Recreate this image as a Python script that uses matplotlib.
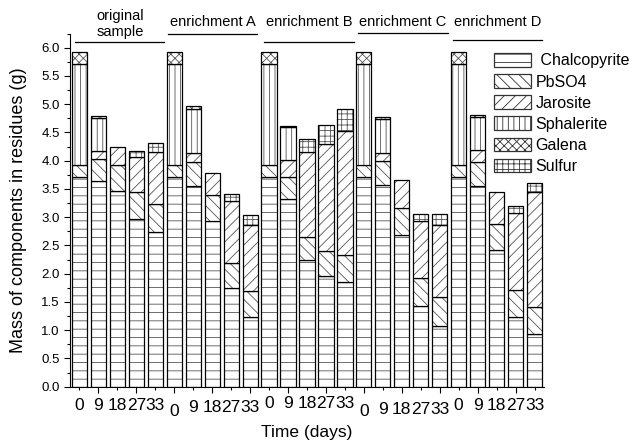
import matplotlib
matplotlib.use('Agg')
import matplotlib.pyplot as plt
import numpy as np
from matplotlib.patches import Patch

plt.rcParams['font.family'] = ['Liberation Sans', 'DejaVu Sans']
plt.rcParams['hatch.linewidth'] = 0.6

# ---------------- data ----------------
groups = ['original\nsample', 'enrichment A', 'enrichment B', 'enrichment C', 'enrichment D']
days = ['0', '9', '18', '27', '33']
components = [' Chalcopyrite', 'PbSO4', 'Jarosite', 'Sphalerite', 'Galena', 'Sulfur']

chalcopyrite = [3.71, 3.64, 3.47, 2.96, 2.73,
                3.71, 3.56, 2.93, 1.74, 1.23,
                3.71, 3.32, 2.24, 1.96, 1.86,
                3.71, 3.57, 2.69, 1.43, 1.07,
                3.71, 3.55, 2.42, 1.23, 0.93]
pbso4 = [0.22, 0.39, 0.46, 0.48, 0.50,
         0.22, 0.42, 0.46, 0.45, 0.46,
         0.22, 0.40, 0.41, 0.45, 0.47,
         0.22, 0.42, 0.48, 0.50, 0.51,
         0.22, 0.43, 0.46, 0.48, 0.48]
jarosite = [0.00, 0.14, 0.31, 0.62, 0.92,
            0.00, 0.15, 0.39, 1.10, 1.18,
            0.00, 0.30, 1.50, 1.89, 2.20,
            0.00, 0.15, 0.48, 1.00, 1.28,
            0.00, 0.21, 0.57, 1.36, 2.04]
sphalerite = [1.78, 0.58, 0.00, 0.00, 0.00,
              1.78, 0.78, 0.00, 0.00, 0.00,
              1.78, 0.57, 0.00, 0.00, 0.00,
              1.78, 0.59, 0.00, 0.00, 0.00,
              1.78, 0.58, 0.00, 0.00, 0.00]
galena = [0.22, 0.05, 0.00, 0.00, 0.00,
          0.22, 0.05, 0.00, 0.00, 0.00,
          0.22, 0.02, 0.00, 0.00, 0.00,
          0.22, 0.04, 0.00, 0.00, 0.00,
          0.22, 0.04, 0.00, 0.00, 0.00]
sulfur = [0.00, 0.00, 0.00, 0.12, 0.16,
          0.00, 0.00, 0.00, 0.12, 0.17,
          0.00, 0.00, 0.23, 0.34, 0.38,
          0.00, 0.00, 0.00, 0.12, 0.19,
          0.00, 0.00, 0.00, 0.13, 0.16]

series = [chalcopyrite, pbso4, jarosite, sphalerite, galena, sulfur]
hatches = ['--', '\\\\\\', '///', '|||', 'xxxx', '+++']

# ---------------- layout/style ----------------
W, H = 636, 441
fig = plt.figure(figsize=(W / 100, H / 100), dpi=100)
ax_left, ax_right, ax_bottom, ax_top = 70, 544, 386.7, 33.6
ax = fig.add_axes([ax_left / W, 1 - ax_bottom / H, (ax_right - ax_left) / W, (ax_bottom - ax_top) / H])

n = len(groups) * len(days)
x = np.arange(1, n + 1)
bottom = np.zeros(n)
for vals, hatch in zip(series, hatches):
    v = np.array(vals, dtype=float)
    m = v > 0
    ax.bar(x[m], v[m], bottom=bottom[m], width=0.8, color='white',
           edgecolor='#555555', hatch=hatch, linewidth=0)
    ax.bar(x[m], v[m], bottom=bottom[m], width=0.8, fill=False,
           edgecolor='black', linewidth=0.9)
    bottom += v

ax.set_xlim(0.5, n + 0.5)
ax.set_ylim(0, 6.25)
ax.spines['top'].set_visible(False)
ax.spines['right'].set_visible(False)
ax.set_xticks(np.arange(2, n + 1, 2))
ax.set_xticks(np.arange(1, n + 1, 2), minor=True)
ax.set_xticklabels([])
ax.set_yticks(np.arange(0, 6.01, 0.5))
ax.set_yticks(np.arange(0, 6.26, 0.25), minor=True)
ax.set_yticklabels(['%.1f' % t for t in np.arange(0, 6.01, 0.5)], fontsize=9.5)
ax.tick_params(which='major', direction='out', length=4, width=0.8)
ax.tick_params(which='minor', direction='out', length=2.2, width=0.8)

# day labels under each bar
group_label_y = [405, 408, 404, 409, 405]
for gi in range(len(groups)):
    for di, d in enumerate(days):
        pos = gi * len(days) + di + 1
        ypx = group_label_y[gi]
        if di == 0 and gi in (1, 3):
            ypx = 411
        ax.annotate(d, xy=(pos, 0), xycoords=('data', 'axes fraction'),
                    xytext=(0, -(ypx - ax_bottom) * 0.72), textcoords='offset points',
                    ha='center', va='center', fontsize=12.5)

# group labels and lines on top
grp_text_y = [6.42, 6.46, 6.45, 6.45, 6.46]
grp_line_y = [6.10, 6.24, 6.10, 6.26, 6.14]
grp_line_x = [(0.79, 5.47), (5.68, 10.37), (10.74, 15.47), (15.68, 20.42), (20.68, 25.42)]
for g, ty, ly, (x0, x1) in zip(groups, grp_text_y, grp_line_y, grp_line_x):
    ax.text((x0 + x1) / 2, ty, g, ha='center', va='center', fontsize=10.5,
            linespacing=1.2, clip_on=False)
    ax.plot([x0, x1], [ly, ly], color='black', lw=0.9, clip_on=False)

fig.text(307 / W, 1 - 432 / H, 'Time (days)', ha='center', va='center', fontsize=12.5)
fig.text(19 / W, 1 - 210 / H, 'Mass of components in residues (g)', ha='center',
         va='center', rotation=90, fontsize=13)

handles = [Patch(facecolor='white', edgecolor='#333333', hatch=h, linewidth=0.9)
           for h in hatches]
fig.legend(handles, components, loc='upper left',
           bbox_to_anchor=(494 / W, 1 - 53 / H), frameon=False, fontsize=11.5,
           borderpad=0, handlelength=2.3, handleheight=0.95, handletextpad=0.3,
           labelspacing=0.36, borderaxespad=0)

fig.savefig('out.png', dpi=100)
